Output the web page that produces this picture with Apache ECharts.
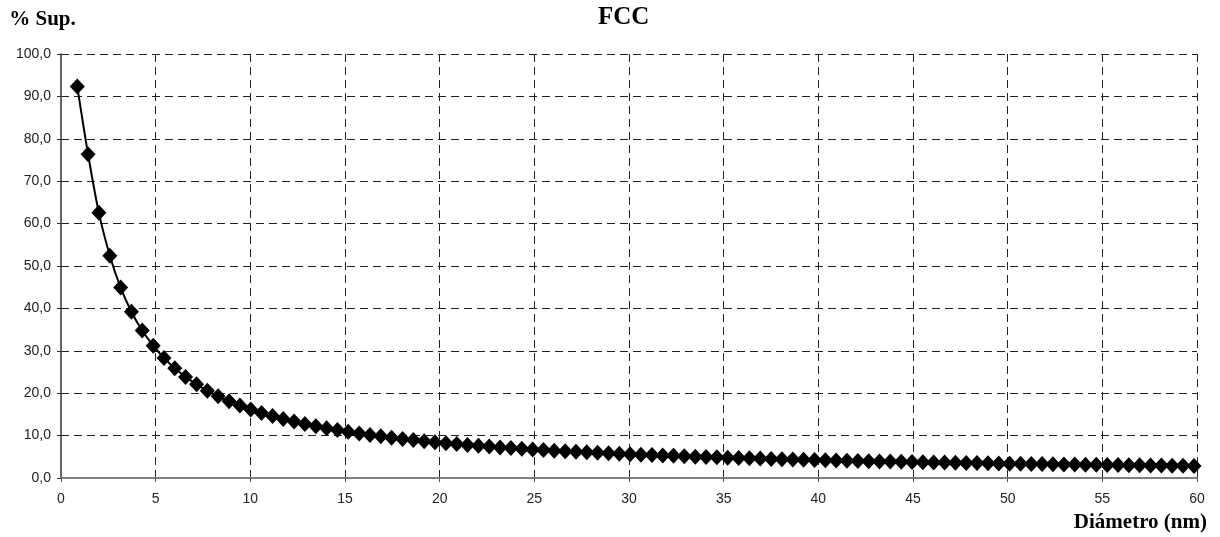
<!DOCTYPE html>
<html>
<head>
<meta charset="utf-8">
<script src="https://cdn.jsdelivr.net/npm/echarts@6/dist/echarts.min.js"></script>
<style>
html,body{margin:0;padding:0;background:#fff;}
#chart{width:1220px;height:537px;}
</style>
</head>
<body>
<div id="chart"></div>
<script>
var chartTitle = 'FCC';
var yAxisTitle = '% Sup.';
var xAxisTitle = 'Diámetro (nm)';

var diameters = [
 0.86, 1.43, 2.00, 2.58, 3.15, 3.72, 4.29, 4.87, 5.44, 6.01,
 6.58, 7.16, 7.73, 8.30, 8.88, 9.45, 10.02, 10.59, 11.17, 11.74,
 12.31, 12.88, 13.46, 14.03, 14.60, 15.17, 15.75, 16.32, 16.89, 17.46,
 18.04, 18.61, 19.18, 19.75, 20.33, 20.90, 21.47, 22.05, 22.62, 23.19,
 23.76, 24.34, 24.91, 25.48, 26.05, 26.63, 27.20, 27.77, 28.34, 28.92,
 29.49, 30.06, 30.63, 31.21, 31.78, 32.35, 32.92, 33.50, 34.07, 34.64,
 35.21, 35.79, 36.36, 36.93, 37.51, 38.08, 38.65, 39.22, 39.80, 40.37,
 40.94, 41.51, 42.09, 42.66, 43.23, 43.80, 44.38, 44.95, 45.52, 46.09,
 46.67, 47.24, 47.81, 48.38, 48.96, 49.53, 50.10, 50.68, 51.25, 51.82,
 52.39, 52.97, 53.54, 54.11, 54.68, 55.26, 55.83, 56.40, 56.97, 57.55,
 58.12, 58.69, 59.26, 59.84
];

var surfacePct = [
 92.31, 76.36, 62.58, 52.43, 44.92, 39.22, 34.77, 31.21, 28.30, 25.88,
 23.84, 22.10, 20.59, 19.27, 18.12, 17.09, 16.17, 15.35, 14.60, 13.92,
 13.31, 12.74, 12.23, 11.75, 11.31, 10.90, 10.51, 10.16, 9.83, 9.51,
 9.22, 8.95, 8.69, 8.44, 8.21, 7.99, 7.79, 7.59, 7.40, 7.22,
 7.06, 6.89, 6.74, 6.59, 6.45, 6.31, 6.18, 6.06, 5.94, 5.82,
 5.71, 5.61, 5.50, 5.40, 5.31, 5.22, 5.13, 5.04, 4.96, 4.88,
 4.80, 4.72, 4.65, 4.58, 4.51, 4.44, 4.38, 4.32, 4.25, 4.20,
 4.14, 4.08, 4.03, 3.97, 3.92, 3.87, 3.82, 3.77, 3.73, 3.68,
 3.64, 3.59, 3.55, 3.51, 3.47, 3.43, 3.39, 3.35, 3.31, 3.28,
 3.24, 3.21, 3.17, 3.14, 3.11, 3.08, 3.05, 3.01, 2.98, 2.96,
 2.93, 2.90, 2.87, 2.84
];

var seriesData = diameters.map(function (d, i) { return [d, surfacePct[i]]; });

var serif = '"Liberation Serif", "Times New Roman", serif';
var sans = '"Liberation Sans", Arial, sans-serif';

var chart = echarts.init(document.getElementById('chart'), null, {renderer: 'canvas'});
chart.setOption({
  animation: false,
  backgroundColor: '#ffffff',
  title: [{
    text: chartTitle,
    left: 593,
    top: 0,
    textStyle: {fontFamily: serif, fontWeight: 'bold', fontSize: 25, color: '#000'}
  }, {
    text: xAxisTitle,
    right: 13,
    top: 512,
    padding: 0,
    textStyle: {fontFamily: serif, fontWeight: 'bold', fontSize: 21, color: '#000'}
  }],
  grid: {left: 61, right: 23, top: 54, bottom: 59, containLabel: false},
  xAxis: {
    type: 'value',
    min: 0, max: 60, interval: 5,
    axisLine: {show: true, onZero: false, lineStyle: {color: '#808080', width: 2}},
    axisTick: {show: true, inside: false, length: 4, lineStyle: {color: '#555'}},
    axisLabel: {margin: 14, fontFamily: sans, fontSize: 14, color: '#222'},
    splitLine: {show: true, showMinLine: false, showMaxLine: true, lineStyle: {color: '#222', width: 1, type: [8, 5]}}
  },
  yAxis: {
    type: 'value',
    min: 0, max: 100, interval: 10,
    name: yAxisTitle,
    nameLocation: 'end',
    nameGap: 34,
    nameTextStyle: {
      fontFamily: serif, fontWeight: 'bold', fontSize: 21, color: '#000',
      align: 'center', verticalAlign: 'middle', padding: [0, 37, 0, 0]
    },
    axisLine: {show: true, lineStyle: {color: '#333', width: 1.5}},
    axisTick: {show: true, inside: false, length: 4, lineStyle: {color: '#333'}},
    axisLabel: {
      margin: 10, fontFamily: sans, fontSize: 14, color: '#222',
      formatter: function (v) { return v.toFixed(1).replace('.', ','); }
    },
    splitLine: {show: true, showMinLine: false, showMaxLine: true, lineStyle: {color: '#222', width: 1, type: [8, 5]}}
  },
  series: [{
    type: 'line',
    data: seriesData,
    smooth: 0.3,
    symbol: 'diamond',
    symbolSize: [15, 16],
    showAllSymbol: true,
    lineStyle: {color: '#000', width: 2},
    itemStyle: {color: '#000', borderWidth: 0},
    clip: false
  }]
});
</script>
</body>
</html>
